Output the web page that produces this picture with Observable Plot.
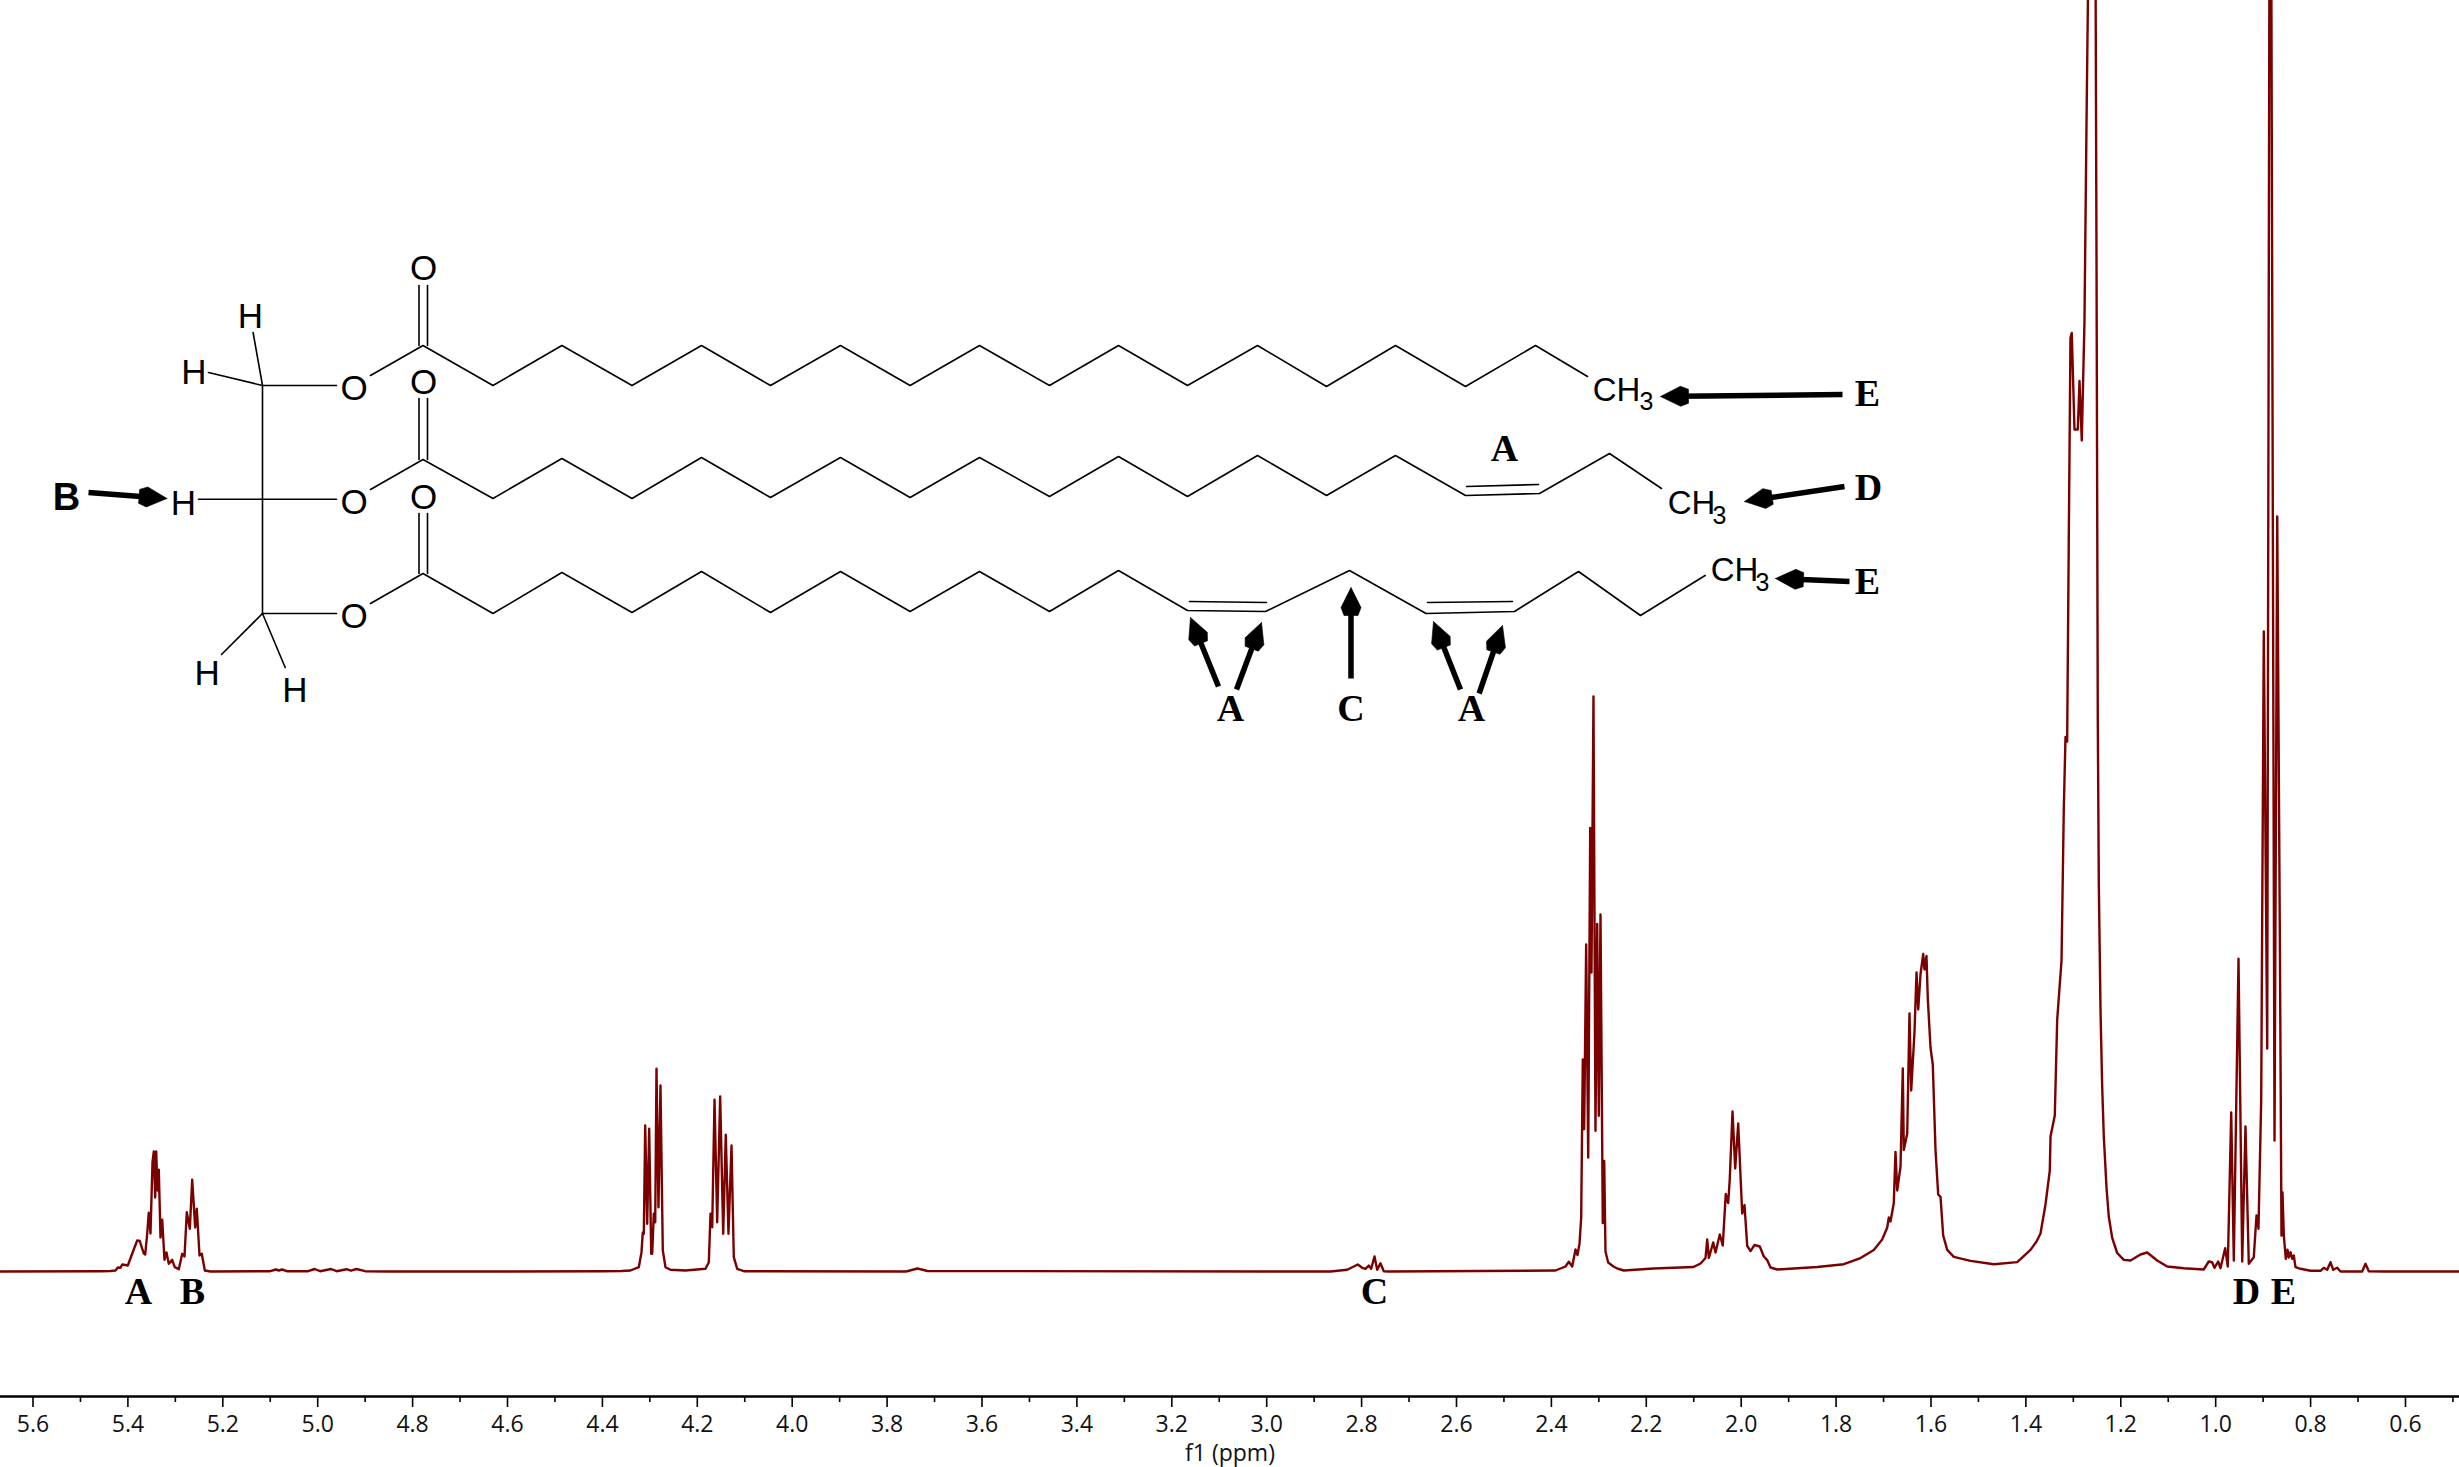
<!DOCTYPE html>
<html>
<head>
<meta charset="utf-8">
<script src="https://cdn.jsdelivr.net/npm/d3@7"></script>
<script src="https://cdn.jsdelivr.net/npm/@observablehq/plot@0.6"></script>
<style>html,body{margin:0;padding:0;background:#fff}svg{display:block}</style>
</head>
<body>
<div id="chart"></div>
<script>
// Spectrum as [chemical shift ppm, intensity], grouped by signal
const baselineLeft = [[5.6685,0],[5.4577,0.3],[5.4367,0.5]];
const signalAB = [[5.4261,1],[5.4213,4],[5.4156,3.7],[5.412,7],[5.4051,6.5],[5.4002,6],[5.3931,15],[5.3861,24],[5.3804,31],[5.3749,30.5],[5.372,26],[5.3665,18],[5.3635,17],[5.3593,38],[5.356,58.7],[5.3524,38],[5.3482,109],[5.3454,120],[5.3425,74],[5.3404,120],[5.3376,81],[5.3349,101.7],[5.3313,34],[5.3277,51.7],[5.3229,11.7],[5.3187,19],[5.3138,7.7],[5.3067,11.7],[5.3012,4.3],[5.2927,2.3],[5.2856,17.7],[5.2807,15],[5.2759,59.3],[5.2695,42.7],[5.2645,91.7],[5.2582,44],[5.2548,62.7],[5.2491,16],[5.2443,17.7],[5.2379,1],[5.2259,0]];
const ripples = [[5.1,0.3],[5.0879,2],[5.082,1],[5.075,2],[5.065,0.3],[5.02,0.3],[5.0067,2.5],[4.995,0.3],[4.9718,2.5],[4.96,0.3],[4.9393,2.3],[4.93,0.8],[4.9182,2.5],[4.9,0.3],[4.85,0],[4.6,0],[4.4,0.3],[4.36,0.5]];
const signalGlycerol = [[4.3408,1],[4.3233,4.3],[4.3176,19.3],[4.3149,39],[4.3127,37.7],[4.3098,146],[4.3056,47.7],[4.3014,142.7],[4.2971,17.7],[4.295,17.7],[4.2917,57.7],[4.2887,49.3],[4.286,202.7],[4.2818,64.3],[4.2776,186],[4.2727,21],[4.267,4.3],[4.2565,1.7],[4.2249,1],[4.1827,2.7],[4.1757,9.3],[4.1722,57.7],[4.1686,44.3],[4.1637,171.7],[4.1581,49.3],[4.1518,175],[4.1454,37.7],[4.14,136.7],[4.1343,37.7],[4.1279,126],[4.1231,14.3],[4.1159,2.7],[4.102,0.3]];
const signalMid = [[3.76,0],[3.7359,3],[3.715,0.5],[3,0],[2.8656,0],[2.8304,1.7],[2.808,7],[2.7988,3.7],[2.7918,2.7],[2.7848,6],[2.7798,2.7],[2.7728,15],[2.7671,1.7],[2.7602,8.3],[2.7532,0.3],[2.7427,0],[2.3913,1]];
const signalAlpha = [[2.3703,5],[2.3633,9.7],[2.3561,5],[2.3492,22],[2.345,16.5],[2.3407,28],[2.3372,54],[2.3338,212],[2.3309,142.5],[2.3267,327],[2.3224,114],[2.3182,443.6],[2.3155,299],[2.3113,575],[2.3071,140.7],[2.3035,347.6],[2.3001,155.7],[2.2965,357],[2.2917,48.4],[2.2887,110.5],[2.286,20],[2.2803,9],[2.2691,5],[2.2613,3],[2.2474,1]];
const signalAllyl = [[2.1848,3],[2.1005,4.5],[2.0857,8],[2.0752,13.5],[2.0716,32],[2.0682,13.5],[2.059,29],[2.0541,19],[2.0451,37],[2.0388,26],[2.0325,77.5],[2.0274,68.5],[2.024,93],[2.0183,160],[2.0126,103],[2.0063,148],[1.9979,58],[1.993,66.5],[1.9873,25.7],[1.9804,20.4],[1.9719,26.5],[1.9608,25],[1.9523,15],[1.9452,11.4],[1.9382,4],[1.9241,2],[1.8398,4.5]];
const signalBeta = [[1.7837,7.3],[1.7485,13.4],[1.7205,21.6],[1.7028,32],[1.6922,44],[1.6889,54],[1.6853,50],[1.6784,68.5],[1.6748,119.6],[1.6712,81],[1.6642,105],[1.6594,203],[1.6573,121.6],[1.6501,138],[1.6453,258],[1.6417,181],[1.6347,240],[1.6305,299],[1.6269,262],[1.6221,297],[1.6164,317.5],[1.6137,302],[1.6095,315.5],[1.6067,272.6],[1.601,224],[1.5962,207],[1.5905,121.6],[1.5848,77],[1.5799,74.7],[1.5743,36],[1.5658,21.6],[1.5519,14.7],[1.5167,10.6],[1.4676,7.3]];
const signalMethylene = [[1.4183,9.4],[1.3903,21.6],[1.3776,30],[1.3692,38],[1.3587,67],[1.3496,101],[1.3481,135],[1.3391,156],[1.334,252],[1.3249,311],[1.3201,463],[1.3165,534.5],[1.313,530],[1.3096,732],[1.306,934],[1.3033,938.5],[1.2976,842],[1.2906,842],[1.287,890.5],[1.2822,831],[1.2765,951],[1.2723,1145],[1.2681,1320],[1.2533,1320],[1.2512,1018],[1.2497,766],[1.2485,555],[1.2463,387],[1.2427,261],[1.2392,185],[1.2358,135],[1.2301,84],[1.2253,55],[1.2181,33.6],[1.2076,18.5],[1.1936,11.6],[1.1795,11],[1.1585,17],[1.1444,19],[1.1233,11],[1.1022,5],[1.0672,3.3],[1.0252,2]];
const signalMethyl = [[1.0147,10],[1.0075,9.3],[1.0026,3.7],[0.9948,10],[0.9899,3.3],[0.98,23.3],[0.9745,5],[0.9673,159],[0.9618,11],[0.9519,312.7],[0.9441,10],[0.9372,145],[0.9302,7.7],[0.9197,14.3],[0.914,56],[0.9098,42.7],[0.9041,171],[0.8986,640],[0.8914,223],[0.8866,1350],[0.883,1350],[0.876,131],[0.8703,755],[0.8649,345],[0.8613,36],[0.8592,79],[0.8564,36],[0.8522,12.7],[0.8486,21.7],[0.8459,14],[0.8423,19.3],[0.8387,12.7],[0.8354,16],[0.8318,4.3],[0.8212,2.7]];
const baselineRight = [[0.8002,0.7],[0.7791,0.7],[0.7721,3.7],[0.765,1.7],[0.758,9.3],[0.7523,1.7],[0.7439,3.7],[0.7369,0],[0.6912,0],[0.6843,7.7],[0.6773,0.3],[0.6457,0],[0.4862,0]];
const spectrum = [baselineLeft,signalAB,ripples,signalGlycerol,signalMid,signalAlpha,signalAllyl,signalBeta,signalMethylene,signalMethyl,baselineRight].flat();

const majorTicks = d3.range(3,29).map(i=>i/5+0).filter(t=>t>=0.6&&t<=5.6);
const minorTicks = d3.range(5,57,2).map(i=>i/10);
const axisTitle = "f1 (ppm)";

// Structure diagram, in its own drawing units (same size as the picture)
const chainTop = [[370,375],[422.5,345],[492.5,385],[561.4,345],[631.5,385],[701,345],[770,385],[840,345],[909.6,385],[979,345],[1049,385],[1118,345],[1187,385],[1257,345],[1326,386],[1395,345],[1465,386],[1535,345],[1587,376]];
const chainMid = [[370,489],[422.5,459],[492.5,498],[561.4,458],[631.5,498],[701,457],[770,497],[840,457],[909.6,497],[979,457],[1049,496],[1118,456],[1187,496],[1257,455],[1326,495],[1395,455],[1465,495],[1539,493],[1609,453],[1661,488]];
const chainLow = [[370,603],[422.5,573],[492.5,613],[561.4,572],[631.5,612],[701,571],[770,612],[840,571],[909.6,611],[979,571],[1049,611],[1118,570],[1187,610],[1265,611],[1349,570],[1425.5,613],[1514,611],[1578,571],[1640,615],[1704.6,575]];
const bonds = [
  [[262,385],[262,613]],
  [[262,385],[336,385]],[[198,498.7],[336,498.7]],[[262,613],[336,613]],
  [[252.6,332],[262,385]],[[208,372],[262,385]],
  [[221,654],[262,613]],[[284.7,667],[262,613]],
  [[418.5,285],[418.5,345]],[[427,285],[427,345]],
  [[418.5,398],[418.5,459]],[[427,398],[427,459]],
  [[418.5,513],[418.5,573]],[[427,513],[427,573]],
  [[1466,486],[1538,484]],[[1189,601],[1266,602]],[[1427,602],[1512,601]]
];
const atoms = [["O",423,268],["O",423,382],["O",423,497],["O",353.6,388],["O",353.6,502],["O",353.6,616],["H",250,316],["H",193.5,372],["H",183,503],["H",206.7,673],["H",294.5,690.7]];
const methylCH = [["CH",1616,390],["CH",1691,503],["CH",1734,570]];
const methyl3 = [["3",1646,401],["3",1719,515],["3",1762,582]];
const serifLabels = [["A",138,1291.5],["B",192,1291.5],["C",1374,1291.5],["D",2246,1291.5],["E",2283,1291.5],["E",1867,393],["D",1868,487],["E",1867,581],["A",1504,448],["A",1230,708],["C",1350.5,708],["A",1471,708]];
const boldSansLabels = [["B",66,497]];
const arrows = [
  [88,492,166.5,498],[1842,394,1660,396],[1844,486,1744,501],[1849,581,1775,578],
  [1218,686,1190,617],[1236,689,1261,622],[1350.5,678,1350.5,587],[1460,689,1433,621],[1478.6,693,1502,625]
];

// Drawing units → data units, so the diagram goes through the same scales
const pxScale = 0.0021075, leftPpm = 5.6685, baseY = 1271;
const X = u => leftPpm - u*pxScale;
const Y = v => baseY - v;

// Arrow shafts and head outlines derived from each arrow's two ends
const headLen = 28, headSpot = 20;
const shafts = arrows.map(([x1,y1,x2,y2])=>{
  const L = Math.hypot(x2-x1,y2-y1);
  return {x1,y1,x2:x2-(x2-x1)/L*headSpot,y2:y2-(y2-y1)/L*headSpot};
});
const heads = arrows.flatMap(([x1,y1,x2,y2],id)=>{
  const L = Math.hypot(x2-x1,y2-y1), ux=(x2-x1)/L, uy=(y2-y1)/L, nx=-uy, ny=ux;
  const at=(back,side)=>({id,u:x2-ux*back+nx*side,v:y2-uy*back+ny*side});
  return [at(0,0),at(headSpot,10),at(headLen,7),at(headLen,-7),at(headSpot,-10),at(0,0)];
});

const red = "#7b0000";
const lineOpts = {x:d=>X(d[0]), y:d=>Y(d[1]), stroke:"#000", strokeWidth:1.6, strokeLinejoin:"miter"};
const textOpts = (size, family, weight) => ({x:d=>X(d[1]), y:d=>Y(d[2]), text:d=>d[0], fontSize:size, fontFamily:family, fontWeight:weight, fill:"#000", textAnchor:"middle", lineAnchor:"middle"});

const chart = Plot.plot({
  width:2459, height:1467,
  marginLeft:0, marginRight:0, marginTop:0, marginBottom:71,
  x:{domain:[leftPpm, leftPpm-2459*pxScale], axis:null},
  y:{domain:[-125,1271], axis:null},
  style:{background:"#fff"},
  marks:[
    Plot.ruleY([-125],{stroke:"#000",strokeWidth:2.4}),
    Plot.axisX({anchor:"bottom",ticks:minorTicks,tickSize:6,tickFormat:()=>"",label:null,stroke:"#000",strokeWidth:1.6}),
    Plot.axisX({anchor:"bottom",ticks:majorTicks,tickSize:11,tickPadding:8,tickFormat:d=>d.toFixed(1),
      label:axisTitle,labelAnchor:"center",labelArrow:"none",labelOffset:64,
      fontSize:23,fontFamily:"'Open Sans'",fill:"#111",stroke:"#000",strokeWidth:1.6}),
    Plot.line(spectrum,{x:d=>d[0],y:d=>d[1],stroke:red,strokeWidth:2.4,curve:"linear",strokeLinejoin:"round",clip:true}),
    Plot.line(chainTop,lineOpts),
    Plot.line(chainMid,lineOpts),
    Plot.line(chainLow,lineOpts),
    ...bonds.map(b=>Plot.line(b,lineOpts)),
    Plot.link(shafts,{x1:d=>X(d.x1),y1:d=>Y(d.y1),x2:d=>X(d.x2),y2:d=>Y(d.y2),stroke:"#000",strokeWidth:5.5}),
    Plot.line(heads,{x:d=>X(d.u),y:d=>Y(d.v),z:"id",fill:"#000",stroke:"#000",strokeWidth:0.6}),
    Plot.text(atoms,textOpts(35,"'Liberation Sans'",400)),
    Plot.text(methylCH,textOpts(33,"'Liberation Sans'",400)),
    Plot.text(methyl3,textOpts(25,"'Liberation Sans'",400)),
    Plot.text(serifLabels,textOpts(38,"'Liberation Serif'",700)),
    Plot.text(boldSansLabels,textOpts(38,"'Liberation Sans'",700))
  ]
});
document.getElementById("chart").appendChild(chart);
</script>
</body>
</html>
